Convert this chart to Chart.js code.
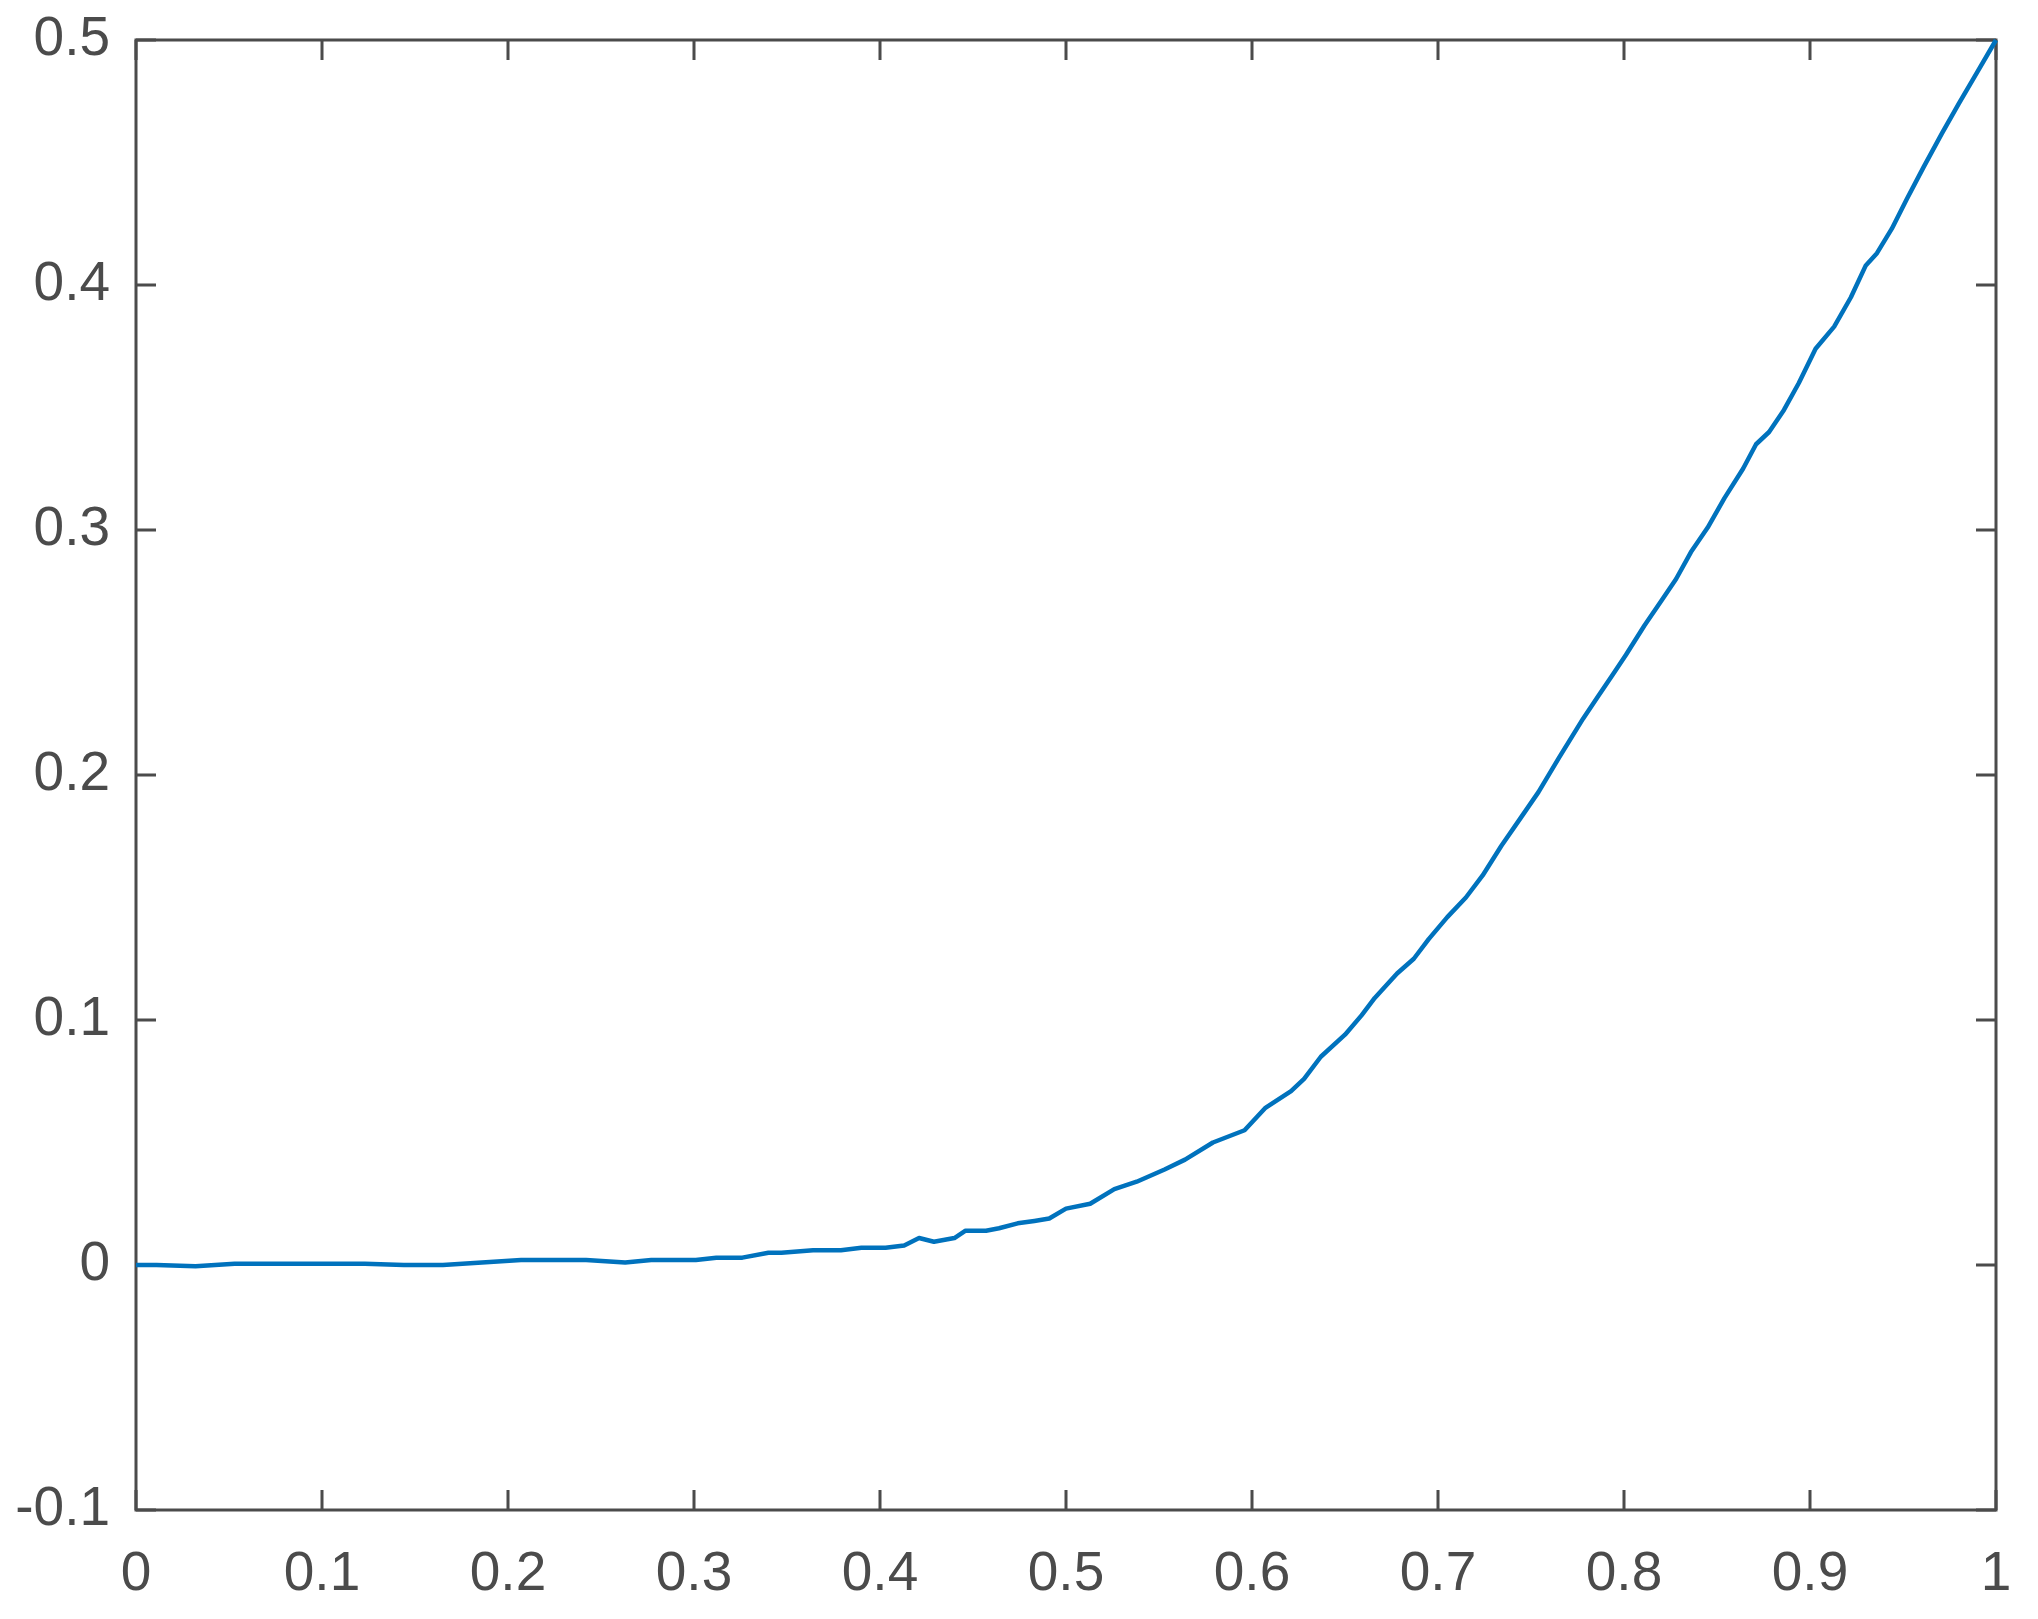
<!DOCTYPE html>
<html>
<head>
<meta charset="utf-8">
<script src="https://cdn.jsdelivr.net/npm/chart.js@4/dist/chart.umd.min.js"></script>
<style>
  html, body { margin: 0; padding: 0; background: #fff; }
  #wrap { width: 2038px; height: 1619px; position: relative; }
</style>
</head>
<body>
<div id="wrap"><canvas id="chart"></canvas></div>
<script>
// curve
const xValues = [
  0, 0.011, 0.032, 0.053, 0.088, 0.123, 0.144, 0.165, 0.186, 0.207,
  0.221, 0.242, 0.263, 0.277, 0.291, 0.301, 0.312, 0.326, 0.340, 0.347,
  0.364, 0.379, 0.390, 0.403, 0.413, 0.421, 0.429, 0.440, 0.446, 0.457,
  0.464, 0.474, 0.483, 0.491, 0.500, 0.513, 0.526, 0.538, 0.553, 0.564,
  0.579, 0.596, 0.607, 0.621, 0.628, 0.637, 0.650, 0.659, 0.666, 0.678,
  0.687, 0.695, 0.705, 0.715, 0.724, 0.734, 0.744, 0.754, 0.765, 0.778,
  0.786, 0.794, 0.801, 0.811, 0.820, 0.828, 0.836, 0.845, 0.854, 0.864,
  0.871, 0.878, 0.886, 0.894, 0.903, 0.913, 0.922, 0.930, 0.936, 0.944,
  0.952, 0.961, 0.971, 0.980, 0.990, 1.0
];
const yValues = [
  0, 0, -0.0005, 0.0005, 0.0005, 0.0005, 0, 0, 0.001, 0.002,
  0.002, 0.002, 0.001, 0.002, 0.002, 0.002, 0.003, 0.003, 0.005, 0.005,
  0.006, 0.006, 0.007, 0.007, 0.008, 0.011, 0.0095, 0.011, 0.014, 0.014,
  0.015, 0.017, 0.018, 0.019, 0.023, 0.025, 0.031, 0.034, 0.039, 0.043,
  0.050, 0.055, 0.064, 0.071, 0.076, 0.085, 0.094, 0.102, 0.109, 0.119,
  0.125, 0.133, 0.142, 0.150, 0.159, 0.171, 0.182, 0.193, 0.207, 0.223,
  0.232, 0.241, 0.249, 0.261, 0.271, 0.280, 0.291, 0.301, 0.313, 0.325,
  0.335, 0.340, 0.349, 0.360, 0.374, 0.383, 0.395, 0.408, 0.413, 0.423,
  0.435, 0.448, 0.462, 0.474, 0.487, 0.5
];
const xTickLabels = ['0', '0.1', '0.2', '0.3', '0.4', '0.5', '0.6', '0.7', '0.8', '0.9', '1'];
const yTickLabels = ['-0.1', '0', '0.1', '0.2', '0.3', '0.4', '0.5'];

const axisColor = '#4b4b4b';
const lineColor = '#0072bd';

// matlab style box with inward ticks on all four sides
const boxTicks = {
  id: 'boxTicks',
  beforeDatasetsDraw(chart) {
    const { ctx, chartArea: a, scales: { x, y } } = chart;
    const len = 20;
    ctx.save();
    ctx.strokeStyle = axisColor;
    ctx.lineWidth = 3;
    ctx.lineCap = 'butt';
    ctx.strokeRect(a.left, a.top, a.right - a.left, a.bottom - a.top);
    ctx.beginPath();
    x.ticks.forEach(t => {
      const px = x.getPixelForValue(t.value);
      ctx.moveTo(px, a.bottom); ctx.lineTo(px, a.bottom - len);
      ctx.moveTo(px, a.top); ctx.lineTo(px, a.top + len);
    });
    y.ticks.forEach(t => {
      const py = y.getPixelForValue(t.value);
      ctx.moveTo(a.left, py); ctx.lineTo(a.left + len, py);
      ctx.moveTo(a.right, py); ctx.lineTo(a.right - len, py);
    });
    ctx.stroke();
    ctx.restore();
  }
};

const ctx = document.getElementById('chart').getContext('2d');
new Chart(ctx, {
  type: 'line',
  data: {
    datasets: [{
      data: xValues.map((x, i) => ({ x: x, y: yValues[i] })),
      borderColor: lineColor,
      borderWidth: 4.5,
      borderJoinStyle: 'round',
      pointRadius: 0,
      tension: 0,
      fill: false,
      clip: false
    }]
  },
  options: {
    responsive: true,
    maintainAspectRatio: false,
    animation: false,
    layout: { padding: { top: 40, right: 42, left: 0, bottom: 0 } },
    plugins: {
      legend: { display: false },
      tooltip: { enabled: false }
    },
    scales: {
      x: {
        type: 'linear',
        min: 0,
        max: 1,
        afterFit: scale => {
          scale.height = 109;
          scale.paddingLeft = 0;
          scale.paddingRight = 0;
        },
        grid: { display: false, drawTicks: false },
        border: { display: false },
        ticks: {
          stepSize: 0.1,
          padding: 32,
          color: axisColor,
          font: { family: 'Liberation Sans, Arial, sans-serif', size: 55 },
          maxRotation: 0,
          autoSkip: false,
          callback: (v, i) => xTickLabels[i]
        }
      },
      y: {
        type: 'linear',
        min: -0.1,
        max: 0.5,
        afterFit: scale => {
          scale.width = 136;
          scale.paddingTop = 0;
          scale.paddingBottom = 0;
        },
        grid: { display: false, drawTicks: false },
        border: { display: false },
        ticks: {
          stepSize: 0.1,
          padding: 26,
          color: axisColor,
          font: { family: 'Liberation Sans, Arial, sans-serif', size: 55 },
          autoSkip: false,
          callback: (v, i) => yTickLabels[i]
        }
      }
    }
  },
  plugins: [boxTicks]
});
</script>
</body>
</html>
